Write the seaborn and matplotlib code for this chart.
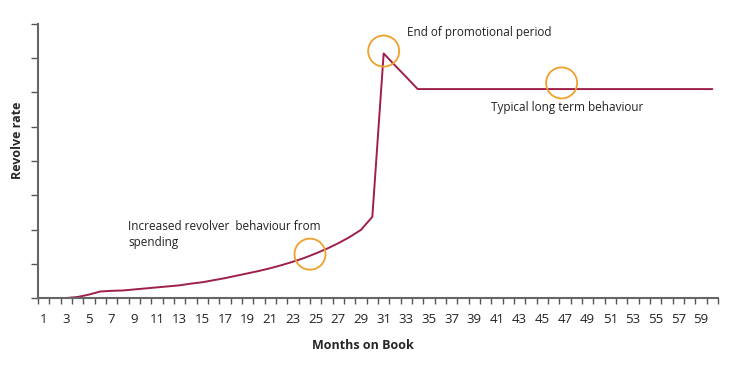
import numpy as np
import pandas as pd
import matplotlib
matplotlib.use("Agg")
import matplotlib.pyplot as plt
import seaborn as sns

# Data
months = list(range(1, 61))
revolve = [0.00, 0.00, 0.00, 0.03, 0.10, 0.19, 0.21, 0.22, 0.25, 0.28,
           0.31, 0.34, 0.37, 0.42, 0.46, 0.52, 0.58, 0.65, 0.72, 0.79,
           0.87, 0.96, 1.06, 1.17, 1.30, 1.44, 1.60, 1.78, 1.99, 2.37,
           7.14, 6.79, 6.45, 6.10] + [6.10] * 26
highlight_x = [24.5, 31.0, 46.7]
highlight_y = [1.28, 7.21, 6.28]
notes = ["Increased revolver  behaviour from\nspending",
         "End of promotional period",
         "Typical long term behaviour"]
note_x = [8.45, 33.1, 40.5]
note_y = [1.86, 7.75, 5.55]

sns.set_theme(style="white")
plt.rcParams['font.family'] = ['Open Sans', 'DejaVu Sans']

df = pd.DataFrame({"month": months, "rate": revolve})

fig = plt.figure(figsize=(7.4, 3.74), dpi=100)
ax = fig.add_axes([38/740, 1-298/374, 680/740, 274/374])

sns.lineplot(data=df, x="month", y="rate", ax=ax, color="#9E1F4A", linewidth=1.4)
ax.scatter(highlight_x, highlight_y, s=500, facecolors="none",
           edgecolors="#F0A12C", linewidths=1.3, zorder=5)

for t, x, y in zip(notes, note_x, note_y):
    ax.text(x, y, t, fontsize=8.5, color="#222222", ha="left", va="center",
            linespacing=1.25)

ax.set_xlim(0.5, 60.5)
ax.set_ylim(0, 8)
ax.set_xticks(range(1, 60, 2))
ax.set_xticklabels([str(m) for m in range(1, 60, 2)], fontsize=9.5, color="#222222")
ax.set_xticks(np.arange(0.5, 61, 1), minor=True)
ax.tick_params(axis="x", which="major", length=0, pad=11)
ax.tick_params(axis="x", which="minor", length=4, width=1, color="#555555", direction="out", bottom=True)
ax.set_yticks(range(0, 9))
ax.set_yticklabels([])
ax.tick_params(axis="y", which="major", length=5, width=1, color="#555555", direction="out", left=True)

for s in ["top", "right"]:
    ax.spines[s].set_visible(False)
for s in ["left", "bottom"]:
    ax.spines[s].set_color("#666666")
    ax.spines[s].set_linewidth(1.5)

ax.set_xlabel("Months on Book", fontsize=9, fontweight="bold")
ax.set_ylabel("Revolve rate", fontsize=9, fontweight="bold")
ax.xaxis.set_label_coords((363-38)/680, -(339-298)/274)
ax.yaxis.set_label_coords(-(38-24)/680, (298-140)/274)

fig.savefig("out.png", dpi=100)
